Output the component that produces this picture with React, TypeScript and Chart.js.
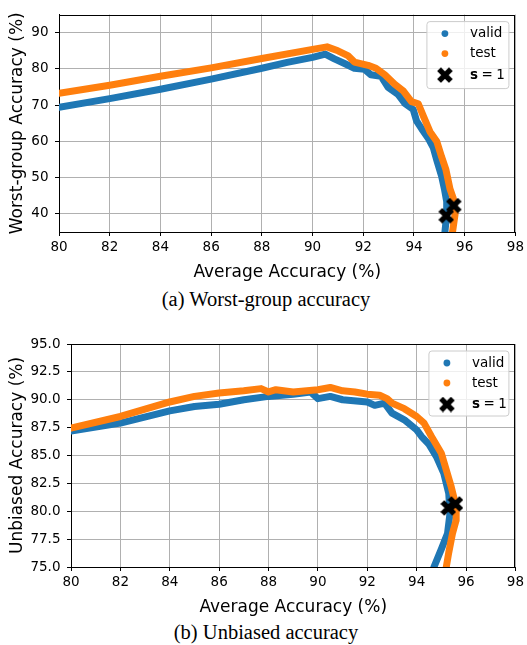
import React, { useEffect, useRef } from "react";
import { Chart, registerables } from "chart.js";

Chart.register(...registerables);

// ---------- data ----------
const X_TICKS = [80, 82, 84, 86, 88, 90, 92, 94, 96, 98];
const WG_Y_TICKS = [40, 50, 60, 70, 80, 90];
const UB_Y_TICKS = [75, 77.5, 80, 82.5, 85, 87.5, 90, 92.5, 95];

const WG_VALID_X = [80, 82, 84, 86, 88, 89, 90, 90.5, 90.86, 91.26, 91.65, 92.05, 92.3, 92.7, 92.98, 93.37, 93.64, 93.97, 94.1, 94.3, 94.56, 94.76, 94.9, 95.09, 95.2, 95.29, 95.29, 95.22];
const WG_VALID_Y = [69.4, 71.8, 74.4, 77.2, 80.2, 81.8, 83.2, 84.1, 82.8, 81.5, 80.2, 79.9, 78.4, 78.0, 74.9, 73.0, 70.5, 68.8, 65.7, 63.5, 60.9, 58.3, 54.8, 50.4, 46.9, 43.4, 39.9, 35];
const WG_TEST_X = [80, 82, 84, 86, 88, 90, 90.57, 91.0, 91.39, 91.65, 92.19, 92.5, 92.85, 93.24, 93.57, 93.9, 94.17, 94.37, 94.63, 94.9, 95.09, 95.26, 95.42, 95.55, 95.62, 95.52];
const WG_TEST_Y = [73.3, 75.5, 78.0, 80.3, 82.9, 85.4, 86.1, 85.0, 83.7, 81.9, 81.0, 80.2, 78.4, 75.8, 74.0, 71.0, 70.4, 67.0, 62.7, 60.0, 55.7, 52.2, 46.9, 44.3, 39.9, 35];
const WG_S1_X = [95.27, 95.57];
const WG_S1_Y = [39.5, 42.3];

const UB_VALID_X = [80, 82, 84, 85, 86, 87, 88, 89, 89.7, 90, 90.5, 91, 92, 92.3, 92.7, 93, 93.5, 94, 94.2, 94.5, 94.8, 95.1, 95.3, 95.35, 95.25, 95.0, 94.7];
const UB_VALID_Y = [87.2, 87.9, 89.0, 89.4, 89.6, 90.0, 90.3, 90.5, 90.7, 90.1, 90.3, 90.0, 89.8, 89.5, 89.7, 88.8, 88.2, 87.3, 86.7, 86.0, 84.9, 83.4, 81.6, 79.8, 78.0, 76.6, 75];
const UB_TEST_X = [80, 82, 84, 85, 86, 87, 87.7, 88, 88.3, 89, 90, 90.5, 91, 91.5, 92, 92.5, 92.8, 93, 93.5, 94, 94.3, 94.6, 95, 95.2, 95.4, 95.6, 95.6, 95.45, 95.3, 95.2];
const UB_TEST_Y = [87.45, 88.5, 89.8, 90.3, 90.6, 90.8, 91.0, 90.7, 90.9, 90.7, 90.9, 91.1, 90.8, 90.7, 90.5, 90.4, 90.1, 89.7, 89.2, 88.5, 87.9, 86.7, 85.2, 83.7, 82.2, 80.4, 79.2, 78.0, 76.3, 75];
const UB_S1_X = [95.28, 95.57];
const UB_S1_Y = [80.3, 80.66];

// ---------- styling ----------
const BLUE = "#1f77b4";
const ORANGE = "#ff7f0e";
const FONT = "'DejaVu Sans', sans-serif";

function zip(xs: number[], ys: number[]) {
  return xs.map((x, i) => ({ x, y: ys[i] }));
}

function makeXMarker(size: number) {
  const c = document.createElement("canvas");
  c.width = size;
  c.height = size;
  const g = c.getContext("2d")!;
  g.strokeStyle = "#000";
  g.lineWidth = size * 0.34;
  g.lineCap = "butt";
  const m = size * 0.13;
  g.beginPath();
  g.moveTo(m, m);
  g.lineTo(size - m, size - m);
  g.moveTo(size - m, m);
  g.lineTo(m, size - m);
  g.stroke();
  return c;
}

const framePlugin = {
  id: "frame",
  afterDraw(chart: any, _args: any, opts: any) {
    const ctx = chart.ctx;
    const ca = chart.chartArea;
    ctx.save();
    // top and right spines
    ctx.strokeStyle = "#000";
    ctx.lineWidth = 1;
    ctx.beginPath();
    const L = Math.round(ca.left), R = Math.round(ca.right), T = Math.round(ca.top);
    ctx.moveTo(L, T + 0.5);
    ctx.lineTo(R, T + 0.5);
    ctx.moveTo(R - 0.5, T);
    ctx.lineTo(R - 0.5, Math.round(ca.bottom));
    ctx.stroke();
    // legend
    const w = opts.boxW, h = opts.boxH;
    const bx = ca.right - 6.5 - w;
    const by = ca.top + 7;
    const r = 3;
    ctx.beginPath();
    ctx.moveTo(bx + r, by);
    ctx.lineTo(bx + w - r, by);
    ctx.quadraticCurveTo(bx + w, by, bx + w, by + r);
    ctx.lineTo(bx + w, by + h - r);
    ctx.quadraticCurveTo(bx + w, by + h, bx + w - r, by + h);
    ctx.lineTo(bx + r, by + h);
    ctx.quadraticCurveTo(bx, by + h, bx, by + h - r);
    ctx.lineTo(bx, by + r);
    ctx.quadraticCurveTo(bx, by, bx + r, by);
    ctx.closePath();
    ctx.fillStyle = "rgba(255,255,255,0.8)";
    ctx.fill();
    ctx.strokeStyle = "#cccccc";
    ctx.lineWidth = 1;
    ctx.stroke();

    const mx = bx + 18;
    const tx = bx + 43;
    const rows = [by + 12, by + 32, by + 53.5];
    ctx.fillStyle = BLUE;
    ctx.beginPath();
    ctx.arc(mx, rows[0], 3.4, 0, Math.PI * 2);
    ctx.fill();
    ctx.fillStyle = ORANGE;
    ctx.beginPath();
    ctx.arc(mx, rows[1], 3.4, 0, Math.PI * 2);
    ctx.fill();
    const img = opts.marker;
    ctx.drawImage(img, mx - img.width / 2, rows[2] - img.height / 2);

    ctx.fillStyle = "#000";
    ctx.textBaseline = "middle";
    ctx.textAlign = "left";
    ctx.font = `13.5px ${FONT}`;
    ctx.fillText("valid", tx, rows[0]);
    ctx.fillText("test", tx, rows[1]);
    ctx.font = `bold 13.5px ${FONT}`;
    ctx.fillText("s", tx, rows[2]);
    const sw = ctx.measureText("s").width;
    ctx.font = `13.5px ${FONT}`;
    ctx.fillText("=", tx + sw + 3.5, rows[2]);
    const ew = ctx.measureText("=").width;
    ctx.fillText("1", tx + sw + 3.5 + ew + 3.5, rows[2]);
    ctx.restore();
  },
};

interface Spec {
  vx: number[]; vy: number[]; tx: number[]; ty: number[]; sx: number[]; sy: number[];
  yTicks: number[]; yMin: number; yMax: number; yTitle: string; yFmt: (v: number) => string;
  yWidth: number; xHeight: number; padTop: number; boxW: number; boxH: number;
}

function buildConfig(s: Spec, marker: HTMLCanvasElement): any {
  const lineDs = (label: string, data: any[], color: string, order: number) => ({
    label, data, showLine: true, borderColor: color, backgroundColor: color,
    borderWidth: 7, pointRadius: 0, borderJoinStyle: "round", borderCapStyle: "round",
    order, clip: 0,
  });
  return {
    type: "scatter",
    data: {
      datasets: [
        lineDs("valid", zip(s.vx, s.vy), BLUE, 3),
        lineDs("test", zip(s.tx, s.ty), ORANGE, 2),
        { label: "s = 1", data: zip(s.sx, s.sy), pointStyle: marker, pointRadius: 8, order: 1, showLine: false, clip: false },
      ],
    },
    options: {
      animation: false,
      responsive: false,
      events: [],
      layout: { padding: { top: s.padTop, right: 8.5, left: 0, bottom: 0 } },
      plugins: { legend: { display: false }, tooltip: { enabled: false }, frame: { boxW: s.boxW, boxH: s.boxH, marker } },
      scales: {
        x: {
          type: "linear", min: 80, max: 98,
          afterBuildTicks: (sc: any) => { sc.ticks = X_TICKS.map((v) => ({ value: v })); },
          afterFit: (sc: any) => { sc.height = s.xHeight; },
          ticks: { font: { family: FONT, size: 13.5 }, color: "#000", padding: 3, maxRotation: 0, callback: (v: any) => String(v) },
          grid: { color: "#b0b0b0", lineWidth: 1, tickColor: "#000", tickLength: 4 },
          border: { color: "#000", width: 1 },
          title: { display: true, text: "Average Accuracy (%)", font: { family: FONT, size: 17 }, color: "#000", padding: { top: 0, bottom: 2 } },
        },
        y: {
          type: "linear", min: s.yMin, max: s.yMax,
          afterBuildTicks: (sc: any) => { sc.ticks = s.yTicks.map((v) => ({ value: v })); },
          afterFit: (sc: any) => { sc.width = s.yWidth; },
          ticks: { font: { family: FONT, size: 13.5 }, color: "#000", padding: 6.5, callback: (v: any) => s.yFmt(Number(v)) },
          grid: { color: "#b0b0b0", lineWidth: 1, tickColor: "#000", tickLength: 4 },
          border: { color: "#000", width: 1 },
          title: { display: true, text: s.yTitle, font: { family: FONT, size: 17 }, color: "#000", padding: { top: 7, bottom: 0 } },
        },
      },
    },
    plugins: [framePlugin],
  };
}

function ChartCanvas({ spec, width, height }: { spec: Spec; width: number; height: number }) {
  const ref = useRef<HTMLCanvasElement>(null);
  useEffect(() => {
    const marker = makeXMarker(16);
    const chart = new Chart(ref.current!, buildConfig(spec, marker));
    return () => chart.destroy();
  }, []);
  return <canvas ref={ref} width={width} height={height} style={{ display: "block", width, height }} />;
}

const WG_SPEC: Spec = {
  vx: WG_VALID_X, vy: WG_VALID_Y, tx: WG_TEST_X, ty: WG_TEST_Y, sx: WG_S1_X, sy: WG_S1_Y,
  yTicks: WG_Y_TICKS, yMin: 35, yMax: 95, yTitle: "Worst-group Accuracy (%)", yFmt: (v) => String(v),
  yWidth: 59, xHeight: 53, padTop: 3, boxW: 82, boxH: 67,
};

const UB_SPEC: Spec = {
  vx: UB_VALID_X, vy: UB_VALID_Y, tx: UB_TEST_X, ty: UB_TEST_Y, sx: UB_S1_X, sy: UB_S1_Y,
  yTicks: UB_Y_TICKS, yMin: 75, yMax: 95, yTitle: "Unbiased Accuracy (%)", yFmt: (v) => v.toFixed(1),
  yWidth: 71, xHeight: 53, padTop: 24, boxW: 80, boxH: 65,
};

const captionStyle: React.CSSProperties = {
  position: "absolute", left: 0, width: 532, textAlign: "center",
  fontFamily: "'Liberation Serif', 'Times New Roman', serif", fontSize: 20.5, lineHeight: "24px", color: "#000",
};

export default function App() {
  return (
    <div style={{ position: "absolute", left: 0, top: 0, width: 527, height: 645, background: "#fff", overflow: "hidden" }}>
      <div style={{ position: "absolute", left: 0, top: 0 }}>
        <ChartCanvas spec={WG_SPEC} width={527} height={285} />
      </div>
      <div style={{ ...captionStyle, top: 287 }}>(a) Worst-group accuracy</div>
      <div style={{ position: "absolute", left: 0, top: 320 }}>
        <ChartCanvas spec={UB_SPEC} width={527} height={300} />
      </div>
      <div style={{ ...captionStyle, top: 620 }}>(b) Unbiased accuracy</div>
    </div>
  );
}
